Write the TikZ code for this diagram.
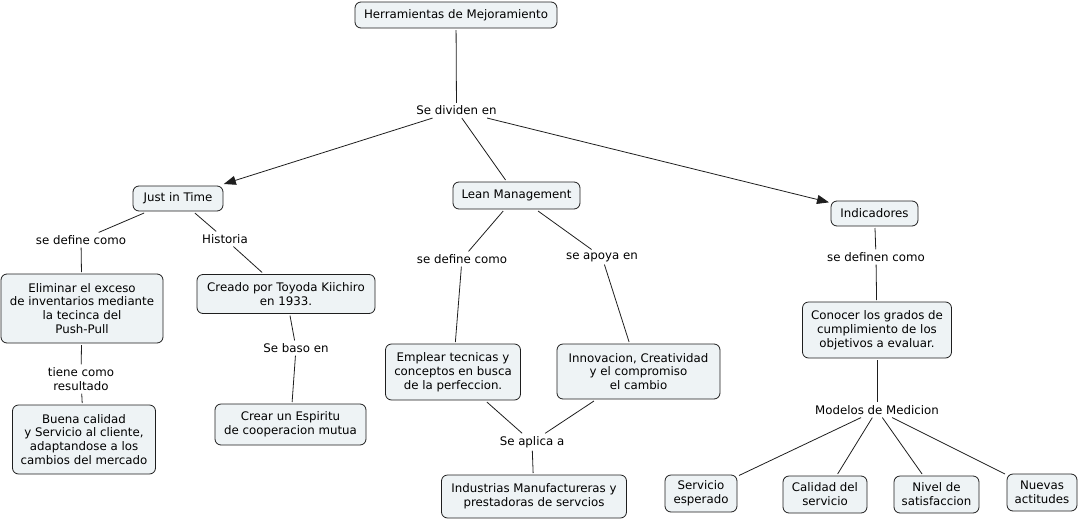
\documentclass[tikz,border=0pt]{standalone}
\usepackage{fontspec}
\setmainfont{DejaVu Sans}
\usetikzlibrary{arrows.meta}
\definecolor{boxfill}{RGB}{238,243,245}
\definecolor{linec}{RGB}{30,30,30}
\begin{document}
\begin{tikzpicture}[x=1pt,y=-1pt,
  every node/.style={font=\fontsize{11.8}{13.9}\selectfont, align=center, text=black},
  concept/.style={draw=linec, fill=boxfill, rounded corners=6pt, line width=0.8pt, inner sep=0pt, outer sep=2pt},
  link/.style={inner sep=2pt, outer sep=1pt},
  conn/.style={draw=linec, line width=0.8pt},
  arr/.style={conn, -{Triangle[length=12pt,width=9pt]}}
]
\useasboundingbox (0,0) rectangle (1080,520);
% concepts
\node[concept, minimum width=202pt, minimum height=26pt] (herr) at (456,15) {Herramientas de Mejoramiento};
\node[concept, minimum width=90pt, minimum height=25pt] (jit) at (178,198.5) {Just in Time};
\node[concept, minimum width=127pt, minimum height=27pt] (lean) at (516.5,195.5) {Lean Management};
\node[concept, minimum width=87pt, minimum height=25pt] (ind) at (874.5,213.5) {Indicadores};
\node[concept, minimum width=162pt, minimum height=69pt] (elim) at (82,308.5) {Eliminar el exceso\\de inventarios mediante\\la tecinca del\\Push-Pull};
\node[concept, minimum width=178pt, minimum height=39pt] (crea) at (286,294) {Creado por Toyoda Kiichiro\\en 1933.};
\node[concept, minimum width=143pt, minimum height=69pt] (buena) at (84,439.5) {Buena calidad\\y Servicio al cliente,\\adaptandose a los\\cambios del mercado};
\node[concept, minimum width=151pt, minimum height=41pt] (esp) at (290.5,424.5) {Crear un Espiritu\\de cooperacion mutua};
\node[concept, minimum width=135pt, minimum height=56pt] (empl) at (453,372) {Emplear tecnicas y\\conceptos en busca\\de la perfeccion.};
\node[concept, minimum width=163pt, minimum height=55pt] (innov) at (638.5,371.5) {Innovacion, Creatividad\\y el compromiso\\el cambio};
\node[concept, minimum width=185pt, minimum height=43pt] (indus) at (534,496.5) {Industrias Manufactureras y\\prestadoras de servcios};
\node[concept, minimum width=149pt, minimum height=56pt] (cono) at (877,330) {Conocer los grados de\\cumplimiento de los\\objetivos a evaluar.};
\node[concept, minimum width=72pt, minimum height=37pt] (serv) at (701,493.5) {Servicio\\esperado};
\node[concept, minimum width=84pt, minimum height=37pt] (cal) at (825,494.5) {Calidad del\\servicio};
\node[concept, minimum width=85pt, minimum height=37pt] (niv) at (936.5,494.5) {Nivel de\\satisfaccion};
\node[concept, minimum width=70pt, minimum height=37pt] (nue) at (1042,492.5) {Nuevas\\actitudes};
% linking phrases
\node[link] (div) at (456.5,110.5) {Se dividen en};
\node[link] (def1) at (81,240) {se define como};
\node[link] (hist) at (225,239) {Historia};
\node[link] (tiene) at (81,379) {tiene como\\resultado};
\node[link] (baso) at (296,348) {Se baso en};
\node[link] (def2) at (462,259) {se define como};
\node[link] (apoya) at (602,257) {se apoya en};
\node[link] (aplica) at (532,442) {Se aplica a};
\node[link] (def3) at (876,257) {se definen como};
\node[link] (mod) at (877,410) {Modelos de Medicion};
% connectors
\draw[conn] (herr) -- (div);
\draw[arr] (div) -- (jit);
\draw[conn] (div) -- (lean);
\draw[arr] (div) -- (ind);
\draw[conn] (jit) -- (def1);
\draw[conn] (def1) -- (elim);
\draw[conn] (jit) -- (hist);
\draw[conn] (hist) -- (crea);
\draw[conn] (elim) -- (tiene);
\draw[conn] (tiene) -- (buena);
\draw[conn] (crea) -- (baso);
\draw[conn] (baso) -- (esp);
\draw[conn] (lean) -- (def2);
\draw[conn] (def2) -- (empl);
\draw[conn] (lean) -- (apoya);
\draw[conn] (apoya) -- (innov);
\draw[conn] (empl) -- (aplica);
\draw[conn] (innov) -- (aplica);
\draw[conn] (aplica) -- (indus);
\draw[conn] (ind) -- (def3);
\draw[conn] (def3) -- (cono);
\draw[conn] (cono) -- (mod);
\draw[conn] (mod) -- (serv);
\draw[conn] (mod) -- (cal);
\draw[conn] (mod) -- (niv);
\draw[conn] (mod) -- (nue);
\end{tikzpicture}
\end{document}
